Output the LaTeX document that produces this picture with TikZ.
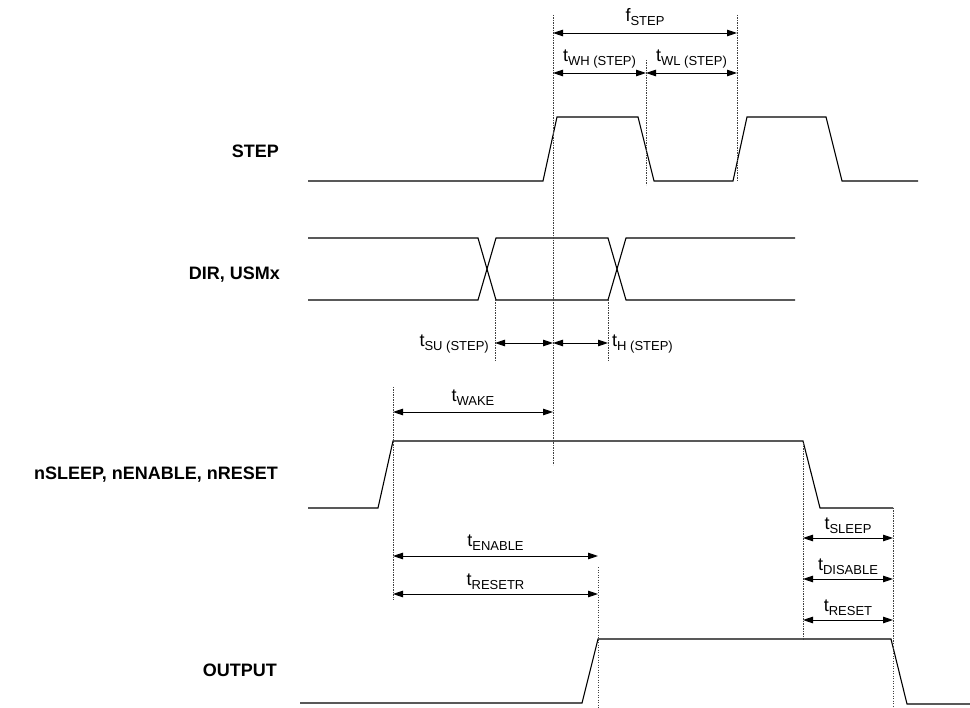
\documentclass[tikz,border=0pt]{standalone}
\usepackage{fontspec}
\setmainfont{Liberation Sans}
\usetikzlibrary{arrows.meta}
\newcommand{\tsub}[2]{#1\raisebox{-4pt}{\fontsize{13}{14}\selectfont #2}}
\tikzset{
    signal/.style={
        draw=black,
        line width=1.1pt,
        line join=miter
    },
    guide/.style={
        draw=black!75,
        line width=0.7pt,
        dash pattern=on 1.3pt off 1.2pt
    },
    dimarrow/.style={
        {Triangle[length=10pt,width=6.5pt]}-{Triangle[length=10pt,width=6.5pt]},
        line width=0.9pt
    },
    siglabel/.style={
        font=\fontsize{18}{20}\selectfont\bfseries,
        anchor=base east,
        inner sep=0pt
    },
    timelabel/.style={
        font=\fontsize{18}{20}\selectfont,
        inner sep=0pt
    }
}

\begin{document}
\begin{tikzpicture}[x=1pt, y=-1pt]
    \useasboundingbox (0,0) rectangle (970,708);

    % signal names
    \node[siglabel] (lstep) at (279,158) {STEP};
    \node[siglabel] (ldir) at (280,280) {DIR, USMx};
    \node[siglabel] (lsleep) at (278,480) {nSLEEP, nENABLE, nRESET};
    \node[siglabel] (lout) at (277,676) {OUTPUT};

    % waveforms
    \draw[signal] (308,181) -- (543,181) -- (557,117) -- (638,117)
        -- (654,181) -- (733,181) -- (747,117) -- (826,117)
        -- (842,181) -- (918,181);
    \draw[signal] (308,238) -- (478,238) -- (496,300) -- (608,300)
        -- (626,238) -- (795,238);
    \draw[signal] (308,300) -- (478,300) -- (496,238) -- (608,238)
        -- (626,300) -- (795,300);
    \draw[signal] (308,508) -- (378,508) -- (393,441) -- (803,441)
        -- (820,508) -- (893,508);
    \draw[signal] (300,703) -- (582,703) -- (598,639) -- (891,639)
        -- (907,704) -- (970,704);

    % guide lines
    \coordinate (riseT) at (553,15);  \coordinate (riseB) at (553,465);
    \coordinate (fallT) at (646,60);  \coordinate (fallB) at (646,185);
    \coordinate (nextT) at (737,15);  \coordinate (nextB) at (737,182);
    \coordinate (suT) at (495,300);   \coordinate (suB) at (495,362);
    \coordinate (hT) at (608,300);    \coordinate (hB) at (608,362);
    \coordinate (wakeT) at (393,387); \coordinate (wakeB) at (393,600);
    \coordinate (enT) at (598,567);   \coordinate (enB) at (598,708);
    \coordinate (slT) at (803,441);   \coordinate (slB) at (803,640);
    \coordinate (rsT) at (893,508);   \coordinate (rsB) at (893,708);
    \foreach \g in {rise,fall,next,su,h,wake,en,sl,rs}
        \draw[guide] (\g T) -- (\g B);

    % arrow ends
    \foreach \n/\xa/\xb/\y in {
        freq/553/737/33, wh/553/646/73, wl/646/737/73,
        su/495/553/343, hold/553/608/343, wake/393/553/412,
        enable/393/598/556, resetr/393/598/594,
        sleep/803/893/538, disable/803/893/579, reset/803/893/620}
    {
        \coordinate (\n L) at (\xa,\y);
        \coordinate (\n R) at (\xb,\y);
    }

    % timing arrows
    \draw[dimarrow] (freqL) -- node[timelabel, anchor=base, yshift=11pt] (tfreq) {\tsub{f}{STEP}} (freqR);
    \draw[dimarrow] (whL) -- node[timelabel, anchor=base, yshift=11pt] (twh) {\tsub{t}{WH (STEP)}} (whR);
    \draw[dimarrow] (wlL) -- node[timelabel, anchor=base, yshift=11pt] (twl) {\tsub{t}{WL (STEP)}} (wlR);
    \draw[dimarrow] (suL) -- (suR);
    \draw[dimarrow] (holdL) -- (holdR);
    \node[timelabel, anchor=base east] (tsu) at (489,347) {\tsub{t}{SU (STEP)}};
    \node[timelabel, anchor=base west] (th) at (612,347) {\tsub{t}{H (STEP)}};
    \draw[dimarrow] (wakeL) -- node[timelabel, anchor=base, yshift=10pt] (twake) {\tsub{t}{WAKE}} (wakeR);
    \draw[dimarrow] (enableL) -- node[timelabel, anchor=base, yshift=9pt] (tenable) {\tsub{t}{ENABLE}} (enableR);
    \draw[dimarrow] (resetrL) -- node[timelabel, anchor=base, yshift=8pt] (tresetr) {\tsub{t}{RESETR}} (resetrR);
    \draw[dimarrow] (sleepL) -- node[timelabel, anchor=base, yshift=8pt] (tsleep) {\tsub{t}{SLEEP}} (sleepR);
    \draw[dimarrow] (disableL) -- node[timelabel, anchor=base, yshift=9pt] (tdisable) {\tsub{t}{DISABLE}} (disableR);
    \draw[dimarrow] (resetL) -- node[timelabel, anchor=base, yshift=8pt] (treset) {\tsub{t}{RESET}} (resetR);
\end{tikzpicture}
\end{document}
